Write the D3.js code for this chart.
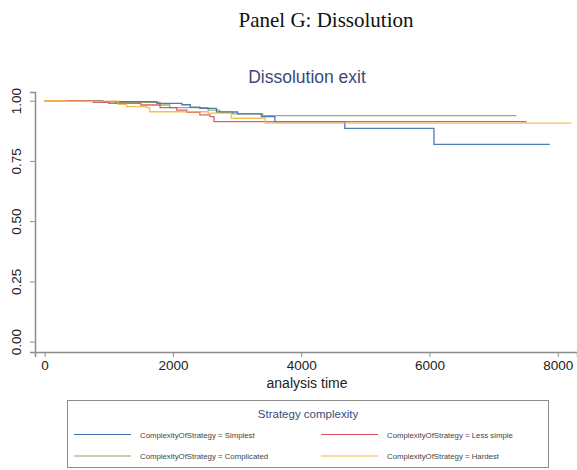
<!DOCTYPE html>
<html>
<head>
<meta charset="utf-8">
<script src="https://cdn.jsdelivr.net/npm/d3@7"></script>
<style>
  body { margin: 0; background: #fff; }
  svg { display: block; }
</style>
</head>
<body>
<div id="main"></div>
<script>
// data: [analysis time, survival]
const simplest = [[0, 1], [900, 0.996], [1750, 0.989], [2140, 0.983], [2270, 0.973], [2420, 0.968], [2680, 0.953], [3010, 0.945], [3380, 0.934], [3590, 0.913], [4680, 0.885], [6070, 0.819], [7875, 0.819]]
const lessSimple = [[0, 1], [760, 0.993], [1000, 0.989], [1500, 0.982], [1800, 0.971], [2060, 0.961], [2220, 0.952], [2420, 0.941], [2580, 0.934], [2640, 0.913], [7515, 0.913]]
const complicated = [[0, 1], [910, 0.996], [1100, 0.993], [1800, 0.982], [1950, 0.971], [2550, 0.961], [2730, 0.952], [2930, 0.945], [3400, 0.938], [7355, 0.938]]
const hardest = [[0, 1], [350, 0.998], [1150, 0.985], [1280, 0.975], [1590, 0.971], [1640, 0.954], [2550, 0.948], [2910, 0.927], [3440, 0.907], [8213, 0.907]]

const seriesNames = ["ComplexityOfStrategy = Simplest", "ComplexityOfStrategy = Less simple", "ComplexityOfStrategy = Complicated", "ComplexityOfStrategy = Hardest"]
const seriesColors = ["#3d6fa6", "#d8505c", "#8aa85a", "#f3b840"]
const xTicks = [0, 2000, 4000, 6000, 8000]
const yTicks = [0, 0.25, 0.5, 0.75, 1]

const W = 577, H = 470
const svg = d3.select("#main").append("svg").attr("width", W).attr("height", H)

// panel heading (serif, like the paper)
svg.append("text").attr("x", 326).attr("y", 27).attr("text-anchor", "middle")
  .attr("font-family", "Liberation Serif, Times New Roman, serif").attr("font-size", 21).attr("fill", "#111")
  .text("Panel G: Dissolution")

svg.append("text").attr("x", 307).attr("y", 83).attr("text-anchor", "middle")
  .attr("font-family", "Liberation Sans, Arial, sans-serif").attr("font-size", 17.5).attr("fill", "#3b4a7a")
  .text("Dissolution exit")

const x = d3.scaleLinear().domain([-150, 8300]).range([35, 577])
const y = d3.scaleLinear().domain([-0.043, 1.036]).range([352, 92])

const xAxis = svg.append("g").attr("transform", "translate(0,352)")
  .call(d3.axisBottom(x).tickValues(xTicks).tickSize(5).tickPadding(3).tickFormat(d3.format("d")))
const yAxis = svg.append("g").attr("transform", "translate(35,0)")
  .call(d3.axisLeft(y).tickValues(yTicks).tickSize(5).tickPadding(4).tickFormat(d3.format(".2f")))

;[xAxis, yAxis].forEach(g => {
  g.select(".domain").attr("stroke", "#8c8c8c").attr("stroke-width", 1.5)
  g.selectAll(".tick line").attr("stroke", "#8c8c8c").attr("stroke-width", 1)
  g.selectAll("text").attr("font-family", "Liberation Sans, Arial, sans-serif").attr("font-size", 13.5).attr("fill", "#222")
})
// rotate y labels like stata
yAxis.selectAll(".tick text").attr("transform", "rotate(-90)").attr("text-anchor", "middle")
  .attr("x", 0).attr("y", -14).attr("dy", 0)

svg.append("text").attr("x", 307).attr("y", 388).attr("text-anchor", "middle")
  .attr("font-family", "Liberation Sans, Arial, sans-serif").attr("font-size", 14).attr("fill", "#222")
  .text("analysis time")

const line = d3.line().curve(d3.curveStepAfter).x(d => x(d[0])).y(d => y(d[1]))
const allSeries = [simplest, lessSimple, complicated, hardest]
// draw order: hardest under, then others
const order = [2, 0, 1, 3]
svg.append("g").selectAll("path").data(order).enter().append("path")
  .attr("d", i => line(allSeries[i]))
  .attr("fill", "none")
  .attr("stroke", i => seriesColors[i])
  .attr("stroke-width", 1.3)
  .attr("opacity", 0.9)

// legend
const lg = svg.append("g")
lg.append("rect").attr("x", 67.5).attr("y", 400.5).attr("width", 481).attr("height", 67)
  .attr("fill", "#fff").attr("stroke", "#8c8c8c").attr("stroke-width", 1)
lg.append("text").attr("x", 308).attr("y", 418).attr("text-anchor", "middle")
  .attr("font-family", "Liberation Sans, Arial, sans-serif").attr("font-size", 11.5).attr("fill", "#3b4a7a")
  .text("Strategy complexity")

const cols = [74, 321], rows = [434.5, 456]
const items = lg.selectAll("g.item").data(seriesNames).enter().append("g")
  .attr("transform", (d, i) => `translate(${cols[i % 2]},${rows[Math.floor(i / 2)]})`)
items.append("line").attr("x1", 0).attr("x2", 57).attr("y1", 0).attr("y2", 0)
  .attr("stroke", (d, i) => seriesColors[i]).attr("stroke-width", 1.2)
items.append("text").attr("x", 66).attr("y", 3)
  .attr("font-family", "Liberation Sans, Arial, sans-serif").attr("font-size", 7.8).attr("fill", "#444")
  .text(d => d)
</script>
</body>
</html>
